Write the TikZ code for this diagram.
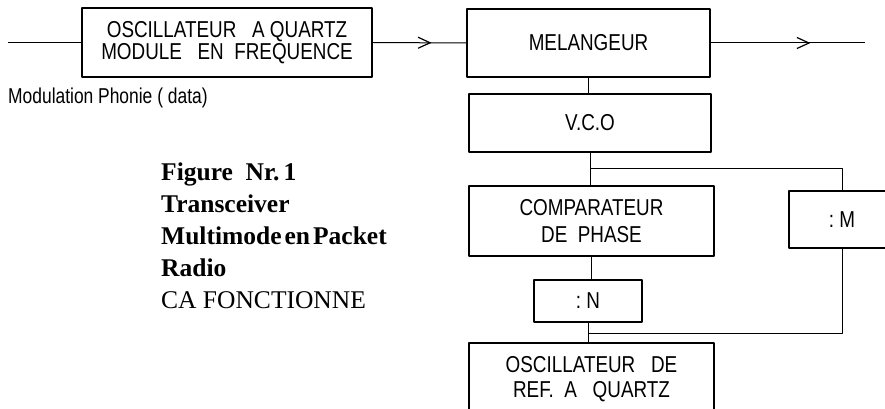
\documentclass[tikz,border=0pt]{standalone}
\usepackage{fontspec}
\setmainfont{Liberation Serif}
\newfontfamily\boxfont[FakeStretch=0.82]{Liberation Sans}
\newfontfamily\lblfont[FakeStretch=0.81]{Liberation Sans}
\usetikzlibrary{arrows.meta,decorations.markings,calc}
\begin{document}
\begin{tikzpicture}[x=1pt,y=-1pt, line join=round,
	blk/.style={draw, line width=2.4pt, inner sep=0pt, align=center, font=\boxfont\fontsize{23}{20}\selectfont},
	wire/.style={line width=1pt},
	midarrow/.style={postaction={decorate}, decoration={markings,
		mark=at position #1 with {\arrow{Straight Barb[length=12pt,width=11pt,line width=1.2pt]}}}}]
	\useasboundingbox (0,0) rectangle (885,409);
	\clip (0,0) rectangle (885,409);
	% blocs
	\node[blk, minimum width=290pt, minimum height=69pt] (osc) at (227,42.5) {OSCILLATEUR\ \ \ A\ QUARTZ\\MODULE\ \ \ EN\ \ FREQUENCE};
	\node[blk, minimum width=243pt, minimum height=68pt] (mel) at (588.5,43) {MELANGEUR};
	\node[blk, minimum width=242pt, minimum height=58pt] (vco) at (590,123) {V.C.O};
	\node[blk, minimum width=245pt, minimum height=70pt] (comp) at (591.5,221) {COMPARATEUR\\[7pt]DE\ \ PHASE};
	\node[blk, minimum width=106pt, minimum height=57pt] (divm) at (842,219.5) {:\ M};
	\node[blk, minimum width=108pt, minimum height=42pt] (divn) at (588,301) {:\ N};
	\node[blk, minimum width=245pt, minimum height=72pt] (ref) at (591.5,379) {OSCILLATEUR\ \ \ DE\\[5pt]REF.\ \ A\ \ \ QUARTZ};
	% textes
	\node[anchor=base west, inner sep=0pt, font=\lblfont\fontsize{21.5}{24}\selectfont] (modlbl) at (8,104) {Modulation Phonie ( data)};
	\node[anchor=base west, inner sep=0pt, align=left, font=\fontsize{25.5}{32}\selectfont] (title) at (161,308)
		{\textbf{Figure\ \ Nr.\,1}\\\textbf{Transceiver}\\\textbf{Multimode\hspace{3pt}en\hspace{3pt}Packet}\\\textbf{Radio}\\CA FONCTIONNE};
	% liaisons
	\coordinate (in) at (8,42.5);
	\coordinate (out) at (865,43);
	\draw[wire] (in) -- (osc.west);
	\draw[wire, midarrow=0.63] (osc.east) -- (mel.west);
	\draw[wire, midarrow=0.645] (mel.east) -- (out);
	\draw[wire] (mel.south) -- (mel.south |- vco.north);
	\draw[wire] (vco.south) -- (vco.south |- comp.north);
	\coordinate (jm) at ($(vco.south)!0.47!(vco.south |- comp.north)$);
	\draw[wire] (jm) -| (divm.north);
	\draw[wire] (comp.south) -- (comp.south |- divn.north);
	\draw[wire] (divn.south) -- (divn.south |- ref.north);
	\coordinate (jn) at ($(divn.south)!0.57!(divn.south |- ref.north)$);
	\draw[wire] (jn) -| (divm.south);
\end{tikzpicture}
\end{document}
